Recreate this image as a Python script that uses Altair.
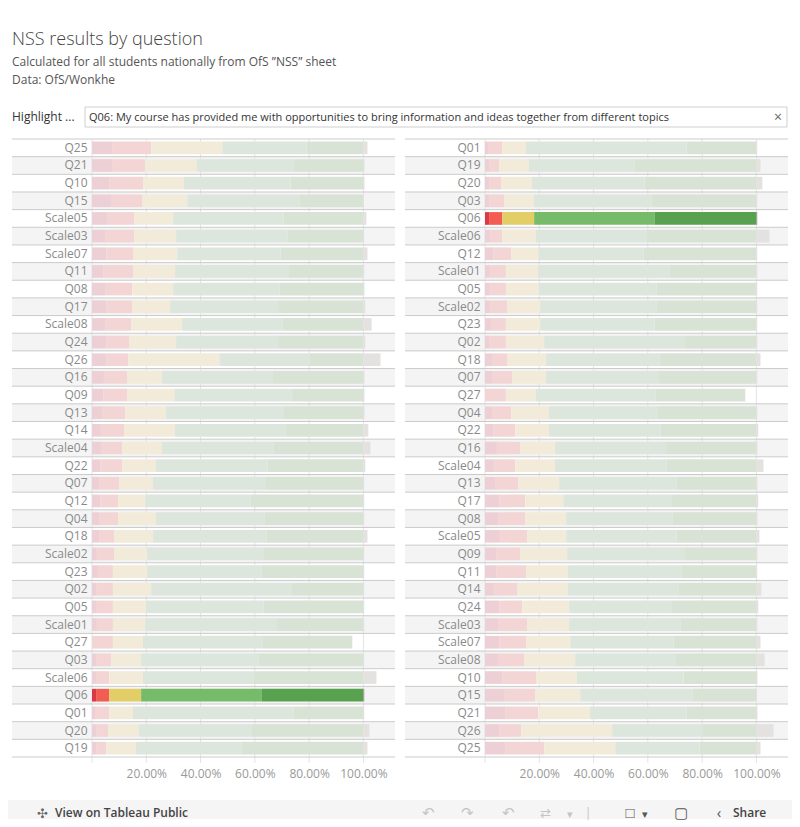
import altair as alt
import pandas as pd

# ---------------- data ----------------
questions = ["Q25", "Q21", "Q10", "Q15", "Scale05", "Scale03", "Scale07", "Q11", "Q08", "Q17",
             "Scale08", "Q24", "Q26", "Q16", "Q09", "Q13", "Q14", "Scale04", "Q22", "Q07",
             "Q12", "Q04", "Q18", "Scale02", "Q23", "Q02", "Q05", "Scale01", "Q27", "Q03",
             "Scale06", "Q06", "Q01", "Q20", "Q19"]
strongly_disagree = [7.4, 7.4, 6.3, 7.0, 5.5, 4.8, 5.2, 4.1, 4.8, 5.2,
                     4.8, 5.2, 5.2, 4.4, 4.1, 3.7, 3.3, 3.3, 3.0, 2.6,
                     3.0, 2.6, 2.6, 1.8, 2.2, 1.5, 1.8, 1.8, 0.0, 1.5,
                     1.8, 1.5, 1.1, 1.5, 1.5]
disagree = [14.4, 12.2, 12.5, 11.5, 10.0, 10.7, 9.9, 11.0, 10.0, 9.6,
            9.6, 8.5, 8.1, 8.5, 8.8, 8.5, 8.5, 7.8, 8.1, 7.4,
            6.6, 7.0, 5.5, 6.3, 5.5, 6.2, 5.9, 5.9, 7.7, 5.5,
            4.5, 4.8, 5.2, 4.4, 3.7]
neither = [26.2, 19.1, 15.1, 16.6, 14.4, 15.5, 16.3, 15.5, 15.1, 14.0,
           18.8, 17.3, 33.6, 12.9, 17.4, 15.1, 18.8, 14.7, 12.5, 12.5,
           10.0, 14.0, 14.4, 12.2, 12.6, 14.1, 12.2, 11.9, 11.1, 11.1,
           12.5, 11.8, 8.8, 11.4, 11.0]
agree = [31.1, 35.5, 39.2, 41.3, 40.6, 41.0, 38.0, 41.7, 39.1, 39.8,
         36.9, 37.6, 33.2, 40.6, 43.1, 43.2, 40.6, 41.0, 41.0, 41.3,
         38.7, 39.9, 41.7, 42.8, 42.1, 51.6, 43.2, 48.3, 43.9, 43.2,
         40.6, 44.3, 59.1, 41.4, 38.8]
strongly_agree = [20.9, 25.8, 26.9, 23.6, 29.5, 28.0, 30.6, 27.7, 31.0, 31.4,
                  29.9, 31.4, 19.9, 33.6, 26.6, 29.5, 28.8, 33.2, 35.4, 36.2,
                  41.7, 36.5, 35.8, 36.9, 37.6, 26.6, 36.9, 32.1, 33.2, 38.7,
                  40.6, 37.6, 25.8, 41.3, 45.0]
not_applicable = [1.5, 0.4, 0.4, 0.2, 1.1, 0.3, 1.5, 0.3, 0.4, 0.7,
                  3.0, 0.7, 6.3, 0.4, 0.4, 0.4, 1.8, 2.6, 0.7, 0.3,
                  0.3, 0.3, 1.5, 0.3, 0.3, 0.3, 0.3, 0.3, 0.0, 0.3,
                  4.8, 0.3, 0.3, 2.2, 1.5]

# right panel order (by total agreement)
right_order = ["Q01", "Q19", "Q20", "Q03", "Q06", "Scale06", "Q12", "Scale01", "Q05", "Scale02",
               "Q23", "Q02", "Q18", "Q07", "Q27", "Q04", "Q22", "Q16", "Scale04", "Q13",
               "Q17", "Q08", "Scale05", "Q09", "Q11", "Q14", "Q24", "Scale03", "Scale07", "Scale08",
               "Q10", "Q15", "Q21", "Q26", "Q25"]

segments = ["Strongly disagree", "Disagree", "Neither", "Agree", "Strongly agree", "N/A"]
highlight = "Q06"
highlight_text = ("Q06: My course has provided me with opportunities to bring information "
                  "and ideas together from different topics")
tick_values = [0, 20, 40, 60, 80, 100]

title = "NSS results by question"
subtitle1 = "Calculated for all students nationally from OfS \u201dNSS\u201d sheet"
subtitle2 = "Data: OfS/Wonkhe"

# ---------------- styling ----------------
FONT = "Open Sans"
hi_colors = ["#d93a46", "#f25c52", "#e3cd67", "#75bb69", "#58a14e", "#9b9189"]
lo_colors = ["#edd0d5", "#f3d5d5", "#f2ebd9", "#dde6dc", "#d8e3d6", "#e4e2e0"]
W, H = 304, 618

series = [strongly_disagree, disagree, neither, agree, strongly_agree, not_applicable]
rows = []
for qi, q in enumerate(questions):
    for si, seg in enumerate(segments):
        rows.append({"q": q, "seg": seg, "idx": si, "value": series[si][qi],
                     "key": seg + ("|hi" if q == highlight else "|lo")})
long_df = pd.DataFrame(rows)

color_domain = [s + "|hi" for s in segments] + [s + "|lo" for s in segments]
color_range = hi_colors + lo_colors
xscale = alt.Scale(domain=[0, 112], nice=False, zero=True)

y_axis = alt.Axis(title=None, ticks=False, domain=False, grid=False, labelPadding=5, zindex=3,
                  labelColor="#8a8a8a", labelFontSize=12, labelFont=FONT)
x_axis = alt.Axis(title=None, values=tick_values, grid=False, ticks=False, domain=False, zindex=3,
                  labelPadding=11, labelColor="#999999", labelFontSize=12, labelFont=FONT,
                  labelExpr="datum.value == 0 ? '' : format(datum.value / 100, '.2%')")


def one(text):
    return pd.DataFrame({"t": [text]})


def panel(order, with_header):
    yscale = alt.Scale(domain=order, paddingInner=0, paddingOuter=0)
    layers = []
    if with_header:
        layers.append(alt.Chart(one("")).mark_rect(color="white").encode(
            x=alt.value(-84), x2=alt.value(700), y=alt.value(-131), y2=alt.value(680)))
    stripes = alt.Chart(pd.DataFrame({"q": order[1::2]})).mark_rect(color="#f4f4f4").encode(
        y=alt.Y("q:N", scale=yscale, axis=y_axis), x=alt.value(-80), x2=alt.value(303))
    grid = alt.Chart(pd.DataFrame({"value": tick_values})).mark_rule(color="#e4e4e4", strokeWidth=1).encode(
        x=alt.X("value:Q", scale=xscale, axis=x_axis), y=alt.value(0), y2=alt.value(H + 6))
    seps = alt.Chart(pd.DataFrame({"q": order})).mark_rule(color="#cbcbcb", strokeWidth=1).encode(
        y=alt.Y("q:N", bandPosition=0, scale=yscale, axis=y_axis), x=alt.value(-80), x2=alt.value(303))
    bottom = alt.Chart(one("")).mark_rule(color="#cbcbcb", strokeWidth=1).encode(
        y=alt.value(H), x=alt.value(-80), x2=alt.value(303))
    bars = alt.Chart(long_df).mark_bar(height=alt.RelativeBandSize(0.72)).encode(
        y=alt.Y("q:N", scale=yscale, axis=y_axis),
        x=alt.X("value:Q", stack="zero", scale=xscale, axis=x_axis),
        color=alt.Color("key:N", scale=alt.Scale(domain=color_domain, range=color_range), legend=None),
        order=alt.Order("idx:Q", sort="ascending"),
    )
    layers += [stripes, grid, seps, bottom, bars]
    if with_header:
        def txt(t, x, y, size, color, weight="normal", align="left"):
            return alt.Chart(one(t)).mark_text(
                align=align, baseline="alphabetic", fontSize=size, font=FONT,
                color=color, fontWeight=weight).encode(
                text="t:N", x=alt.value(x), y=alt.value(y))
        layers += [
            txt(title, -80, -94, 18, "#444444", 300),
            txt(subtitle1, -80, -73, 12, "#555555"),
            txt(subtitle2, -80, -55, 12, "#555555"),
            txt("Highlight ...", -80, -18, 12, "#333333"),
            alt.Chart(one("")).mark_rect(fill="white", stroke="#cfcfcf", strokeWidth=1).encode(
                x=alt.value(-7), x2=alt.value(695), y=alt.value(-32), y2=alt.value(-12)),
            txt(highlight_text, -3, -18, 11, "#333333"),
            txt("\u00d7", 686, -17, 14, "#666666", align="center"),
            # Tableau toolbar
            alt.Chart(one("")).mark_rect(color="#f5f5f5").encode(
                x=alt.value(-84), x2=alt.value(700), y=alt.value(661), y2=alt.value(680)),
            txt("\u2723", -50, 679, 13, "#666666", align="center"),
            txt("View on Tableau Public", -37, 678, 12, "#444444", 600),
            txt("\u21b6", 336, 679, 15, "#c4c4c4", align="center"),
            txt("\u21b7", 375, 679, 15, "#c4c4c4", align="center"),
            txt("\u21b6", 416, 679, 15, "#c4c4c4", align="center"),
            txt("\u21c4", 453, 679, 13, "#c4c4c4", align="center"),
            txt("\u25be", 478, 679, 11, "#c4c4c4", align="center"),
            txt("|", 496, 678, 12, "#c4c4c4", align="center"),
            txt("\u25a1", 538, 679, 15, "#555555", align="center"),
            txt("\u25be", 553, 679, 11, "#555555", align="center"),
            txt("\u25a2", 589, 679, 15, "#555555", align="center"),
            txt("\u2039", 627, 679, 15, "#555555", align="center"),
            txt("Share", 641, 678, 12, "#444444", 600),
        ]
    return alt.layer(*layers).properties(width=W, height=H)


left = panel(questions, True)
right = panel(right_order, False)

chart = alt.hconcat(left, right, spacing=89, bounds="flush").properties(
    padding=0, background="white"
).configure_view(stroke=None)

chart.save("out.html", embed_options={"renderer": "svg", "actions": False})
